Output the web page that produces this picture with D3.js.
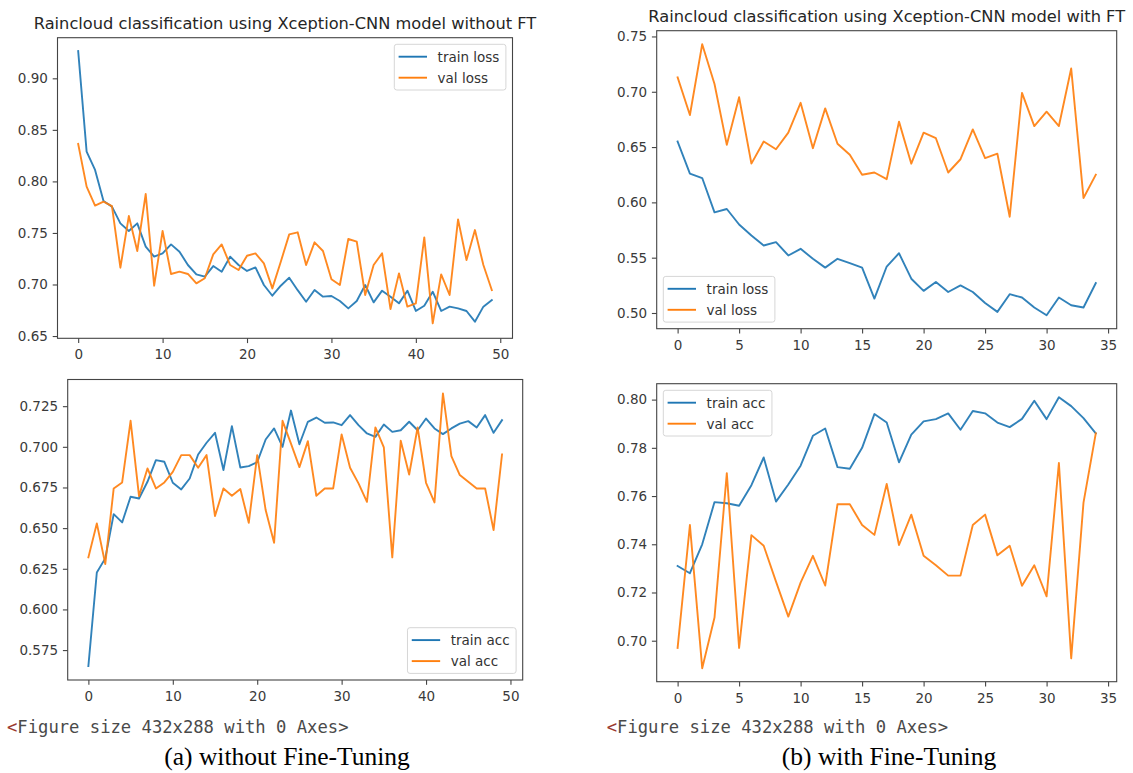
<!DOCTYPE html>
<html><head><meta charset="utf-8">
<script src="https://cdn.jsdelivr.net/npm/d3@7"></script>
<style>
html,body{margin:0;padding:0;background:#fff;}
svg{display:block;font-family:"DejaVu Sans",sans-serif;}
</style></head>
<body>
<svg id="chart" width="1133" height="773"></svg>
<script>
// ---------- data ----------
const epochsA = d3.range(50);
const epochsB = d3.range(35);

const trainLossA = [0.9265,0.8289,0.8111,0.7810,0.7755,0.7593,0.7519,0.7593,0.7367,0.7270,
  0.7302,0.7389,0.7318,0.7189,0.7098,0.7076,0.7179,0.7124,0.7270,0.7189,
  0.7131,0.7166,0.6995,0.6891,0.6988,0.7066,0.6945,0.6833,0.6946,0.6882,
  0.6888,0.6840,0.6768,0.6840,0.6995,0.6827,0.6940,0.6882,0.6817,0.6940,
  0.6743,0.6794,0.6930,0.6743,0.6785,0.6768,0.6743,0.6639,0.6785,0.6849];
const valLossA = [0.8363,0.7949,0.7765,0.7803,0.7761,0.7163,0.7664,0.7325,0.7878,0.6988,
  0.7519,0.7102,0.7124,0.7102,0.7011,0.7060,0.7292,0.7389,0.7189,0.7140,
  0.7279,0.7302,0.7205,0.6962,0.7221,0.7486,0.7506,0.7189,0.7409,0.7325,
  0.7050,0.6995,0.7441,0.7415,0.6898,0.7189,0.7302,0.6762,0.7108,0.6785,
  0.6817,0.7457,0.6623,0.7098,0.6898,0.7632,0.7237,0.7528,0.7189,0.6946];
const trainAccA = [0.5652,0.6227,0.6314,0.6586,0.6535,0.6693,0.6682,0.6785,0.6918,0.6908,
  0.6779,0.6738,0.6805,0.6953,0.7025,0.7086,0.6857,0.7127,0.6873,0.6881,
  0.6906,0.7045,0.7113,0.7000,0.7223,0.7016,0.7154,0.7180,0.7148,0.7150,
  0.7133,0.7195,0.7133,0.7082,0.7061,0.7137,0.7092,0.7102,0.7154,0.7102,
  0.7174,0.7113,0.7078,0.7113,0.7143,0.7158,0.7119,0.7195,0.7086,0.7164];
const valAccA = [0.6320,0.6529,0.6279,0.6744,0.6781,0.7160,0.6697,0.6867,0.6744,0.6781,
  0.6846,0.6949,0.6949,0.6871,0.6949,0.6574,0.6744,0.6699,0.6740,0.6533,
  0.6949,0.6611,0.6410,0.7160,0.7020,0.6875,0.7035,0.6699,0.6744,0.6744,
  0.7076,0.6871,0.6775,0.6662,0.7119,0.6996,0.6320,0.7037,0.6830,0.7119,
  0.6779,0.6658,0.7328,0.6943,0.6826,0.6785,0.6744,0.6744,0.6488,0.6953];

const trainLossB = [0.655,0.626,0.622,0.591,0.594,0.580,0.570,0.561,0.564,0.552,
  0.558,0.549,0.541,0.549,0.545,0.541,0.513,0.542,0.554,0.531,
  0.520,0.528,0.519,0.525,0.519,0.509,0.501,0.517,0.514,0.505,
  0.498,0.514,0.507,0.505,0.527];
const valLossB = [0.713,0.679,0.743,0.707,0.652,0.695,0.635,0.655,0.648,0.663,
  0.690,0.649,0.685,0.653,0.643,0.625,0.627,0.621,0.673,0.635,
  0.663,0.658,0.627,0.639,0.666,0.640,0.644,0.587,0.699,0.669,
  0.682,0.669,0.721,0.604,0.625];
const trainAccB = [0.731,0.728,0.740,0.7575,0.757,0.756,0.7645,0.776,0.7577,0.7648,
  0.7726,0.785,0.788,0.772,0.7713,0.780,0.794,0.7905,0.774,0.7855,
  0.791,0.7919,0.7943,0.7875,0.7953,0.7943,0.7905,0.7886,0.792,0.7995,
  0.7919,0.801,0.7973,0.7923,0.786];
const valAccB = [0.697,0.748,0.6886,0.7096,0.7695,0.697,0.7438,0.7394,0.7245,0.710,
  0.7241,0.7352,0.7229,0.7566,0.7566,0.748,0.7439,0.765,0.7397,0.7523,
  0.7352,0.7313,0.727,0.727,0.748,0.7523,0.7354,0.7394,0.7228,0.7313,
  0.7184,0.7737,0.6927,0.7573,0.786];

// tick labels / axis limits
const xTicksA = [0,10,20,30,40,50];
const xTicksB = [0,5,10,15,20,25,30,35];
const yTicksLossA = [0.65,0.70,0.75,0.80,0.85,0.90];
const yTicksAccA = [0.575,0.600,0.625,0.650,0.675,0.700,0.725];
const yTicksLossB = [0.50,0.55,0.60,0.65,0.70,0.75];
const yTicksAccB = [0.70,0.72,0.74,0.76,0.78,0.80];
const xLimA = [-2.45,51.45], xLimB = [-1.7,35.7];
const yLimLossA = [0.6478,0.9394], yLimAccA = [0.5566,0.7414];
const yLimLossB = [0.4858,0.7552], yLimAccB = [0.683,0.8066];

const titleA = "Raincloud classification using Xception-CNN model without FT";
const titleB = "Raincloud classification using Xception-CNN model with FT";
const lossLabels = ["train loss","val loss"];
const accLabels = ["train acc","val acc"];
const figNote = "Figure size 432x288 with 0 Axes>";
const captionA = "(a) without Fine-Tuning";
const captionB = "(b) with Fine-Tuning";

const colors = ["#1f77b4","#ff7f0e"];

// ---------- drawing ----------
const svg = d3.select("#chart");
svg.append("rect").attr("width",1133).attr("height",773).attr("fill","#fff");

const panels = [
  {box:[57.5,37.7,455,300.6], x:epochsA, ys:[trainLossA,valLossA], xlim:xLimA, ylim:yLimLossA,
   xt:xTicksA, yt:yTicksLossA, yf:".2f", labels:lossLabels, leg:"ur", title:titleA, titleW:503},
  {box:[67.7,379.5,455,300.5], x:epochsA, ys:[trainAccA,valAccA], xlim:xLimA, ylim:yLimAccA,
   xt:xTicksA, yt:yTicksAccA, yf:".3f", labels:accLabels, leg:"lr"},
  {box:[656.7,30.7,460,298], x:epochsB, ys:[trainLossB,valLossB], xlim:xLimB, ylim:yLimLossB,
   xt:xTicksB, yt:yTicksLossB, yf:".2f", labels:lossLabels, leg:"ll", title:titleB, titleW:477},
  {box:[656.7,383.7,460,298], x:epochsB, ys:[trainAccB,valAccB], xlim:xLimB, ylim:yLimAccB,
   xt:xTicksB, yt:yTicksAccB, yf:".2f", labels:accLabels, leg:"ul"}
];

const tickCol = "#3a3a3a";
const fs = 13.5;
const sans = "'DejaVu Sans', sans-serif";

panels.forEach(p => {
  const [bx,by,bw,bh] = p.box;
  const g = svg.append("g").attr("transform",`translate(${bx},${by})`);
  const xs = d3.scaleLinear().domain(p.xlim).range([0,bw]);
  const ys = d3.scaleLinear().domain(p.ylim).range([bh,0]);

  const clipId = "clip"+Math.round(bx)+"_"+Math.round(by);
  g.append("clipPath").attr("id",clipId).append("rect").attr("width",bw).attr("height",bh);

  const line = d3.line().x((d,i)=>xs(p.x[i])).y(d=>ys(d));
  p.ys.forEach((arr,k)=>{
    g.append("path").datum(arr).attr("d",line).attr("fill","none")
      .attr("stroke",colors[k]).attr("stroke-width",1.9)
      .attr("stroke-linejoin","round").attr("stroke-linecap","square")
      .attr("clip-path",`url(#${clipId})`).attr("opacity",0.92);
  });

  const xa = g.append("g").attr("transform",`translate(0,${bh})`)
    .call(d3.axisBottom(xs).tickValues(p.xt).tickFormat(d3.format("d")).tickSize(4.8).tickPadding(6.5));
  const ya = g.append("g")
    .call(d3.axisLeft(ys).tickValues(p.yt).tickFormat(d3.format(p.yf)).tickSize(4.8).tickPadding(4.8));
  [xa,ya].forEach(a=>{
    a.select(".domain").remove();
    a.selectAll("line").attr("stroke","#444").attr("stroke-width",1.1);
    a.selectAll("text").attr("fill",tickCol).attr("font-size",fs).style("font-family",sans);
  });

  g.append("rect").attr("width",bw).attr("height",bh).attr("fill","none")
    .attr("stroke","#444").attr("stroke-width",1.1);

  // legend
  const inset = 6.6, rowH = 21, lineLen = 28.4;
  const lg = g.append("g");
  const texts = p.labels.map((t,k)=>lg.append("text").text(t).attr("font-size",fs)
    .style("font-family",sans).attr("fill","#333"));
  const tw = d3.max(texts, t=>t.node().getComputedTextLength());
  const lw = 4.3 + lineLen + 10.6 + tw + 6.5, lh = 45.7;
  let lx = p.leg.includes("r") ? bw - inset - lw : inset;
  let ly = p.leg.includes("u") ? inset : bh - inset - lh;
  lg.insert("rect","text").attr("x",lx).attr("y",ly).attr("width",lw).attr("height",lh)
    .attr("rx",2.5).attr("fill","#fff").attr("fill-opacity",0.85)
    .attr("stroke","#d6d6d6").attr("stroke-width",1);
  p.labels.forEach((t,k)=>{
    const cy = ly + 12.4 + k*rowH;
    lg.append("line").attr("x1",lx+4.3).attr("x2",lx+4.3+lineLen).attr("y1",cy).attr("y2",cy)
      .attr("stroke",colors[k]).attr("stroke-width",1.9);
    texts[k].attr("x",lx+4.3+lineLen+10.6).attr("y",cy).attr("dy","0.36em");
  });

  // title
  if (p.title) {
    const t = svg.append("text").attr("x",bx+bw/2).attr("y",by-8.5).attr("text-anchor","middle")
      .style("font-family",sans).attr("fill","#262626").attr("font-size",14).text(p.title);
    const w = t.node().getComputedTextLength();
    t.attr("font-size",14*p.titleW/w);
  }
});

// figure-size notes
[[7,733],[606.7,733]].forEach(([x,y])=>{
  const t = svg.append("text").attr("x",x).attr("y",y)
    .style("font-family","'DejaVu Sans Mono', 'Liberation Mono', monospace").attr("font-size",17.2)
    .attr("fill","#4a4a4a");
  t.append("tspan").attr("fill","#9a3a30").text("<");
  t.append("tspan").text(figNote);
});

// captions
[[287,captionA],[889,captionB]].forEach(([x,s])=>{
  svg.append("text").attr("x",x).attr("y",765).attr("text-anchor","middle")
    .style("font-family","'Liberation Serif', 'Times New Roman', serif").attr("font-size",25.5)
    .attr("fill","#000").text(s);
});
</script>
</body></html>
